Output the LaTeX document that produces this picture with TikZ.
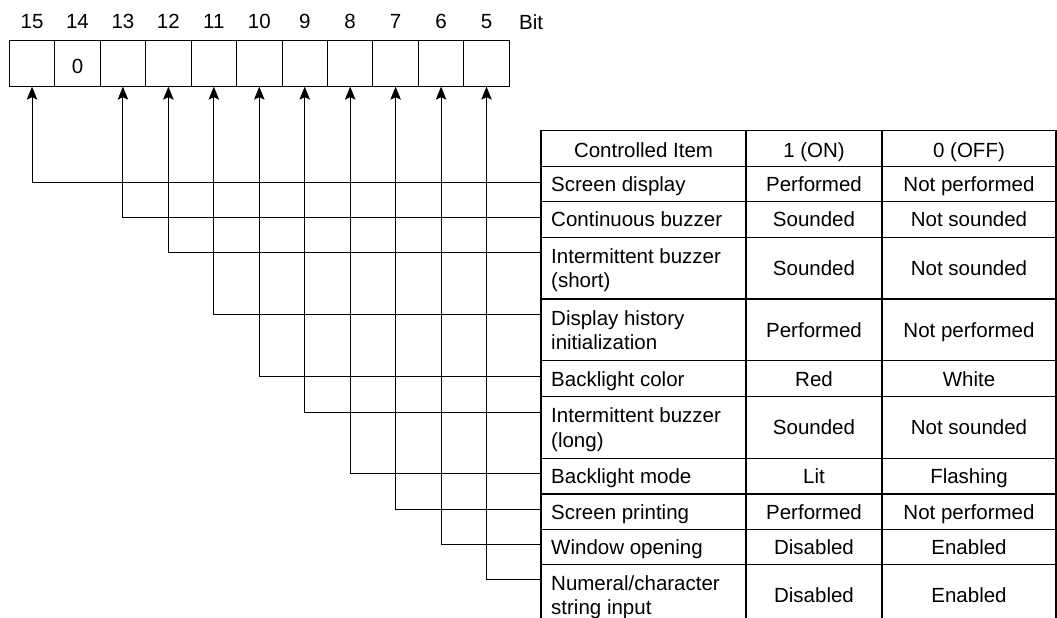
\documentclass[tikz,border=0pt]{standalone}
\usepackage{fontspec}
\setmainfont{Liberation Sans}
\usetikzlibrary{arrows.meta}

\tikzset{
  bitcell/.style={draw, line width=1pt, minimum width=45.45pt, minimum height=45.7pt, inner sep=0pt, outer sep=0pt},
  celltext/.style={inner sep=0pt, text depth=0pt},
  rowtext/.style={inner sep=0pt, text depth=0pt, align=left, anchor=west},
  grid/.style={line width=1.2pt},
  link/.style={line width=0.9pt, -{Stealth[length=13pt,width=10.5pt,inset=2.5pt,fill=black]}},
}

\begin{document}
\begin{tikzpicture}[x=1pt, y=-1pt, font=\fontsize{20.5}{24.5}\selectfont]
    \useasboundingbox (0,0) rectangle (1057,618);
    \clip (0,0) rectangle (1057,618);

    % Bit register
    \foreach \b [count=\i from 0] in {15,14,...,5} {
        \node[bitcell] (b\b) at ({9.3+45.45*(\i+0.5)}, 63.8) {};
        \node[celltext] (n\b) at ({9.3+45.45*(\i+0.5)}, 21.7) {\b};
    }
    \node[celltext] (zero) at ([yshift=-3pt]b14.center) {0};
    \node[celltext, anchor=west] (bitlbl) at (519, 21.7) {Bit};

    % Table frame
    \draw[grid] (541,640) -- (541,130.7) -- (1056,130.7) -- (1056,640);
    \draw[grid] (746,130.7) -- (746,640);
    \draw[grid] (882,130.7) -- (882,640);

    % Header
    \node[celltext] (hitem) at (643.5,150) {Controlled Item};
    \node[celltext] (hon) at (814,150) {1 (ON)};
    \node[celltext] (hoff) at (969,150) {0 (OFF)};

    % Rows and connectors to the bits
    \foreach \t/\u/\item/\on/\off/\b in {
        166.7/201.7/{Screen display}/Performed/{Not performed}/15,
        201.7/237.3/{Continuous buzzer}/Sounded/{Not sounded}/13,
        237.3/299/{Intermittent buzzer\\(short)}/Sounded/{Not sounded}/12,
        299/360.7/{Display history\\initialization}/Performed/{Not performed}/11,
        360.7/396.7/{Backlight color}/Red/White/10,
        396.7/458.3/{Intermittent buzzer\\(long)}/Sounded/{Not sounded}/9,
        458.3/494/{Backlight mode}/Lit/Flashing/8,
        494/529.3/{Screen printing}/Performed/{Not performed}/7,
        529.3/564.3/{Window opening}/Disabled/Enabled/6,
        564.3/626/{Numeral/character\\string input}/Disabled/Enabled/5} {
        \draw[grid] (541,\t) -- (1056,\t);
        \node[rowtext] (item\b) at (551,{(\t+\u)/2}) {\item};
        \node[celltext] (on\b) at (814,{(\t+\u)/2}) {\on};
        \node[celltext] (off\b) at (969,{(\t+\u)/2}) {\off};
        \coordinate (in\b) at (541,\t+15.3);
        \draw[link] (in\b) -| (b\b.south);
    }
\end{tikzpicture}
\end{document}
